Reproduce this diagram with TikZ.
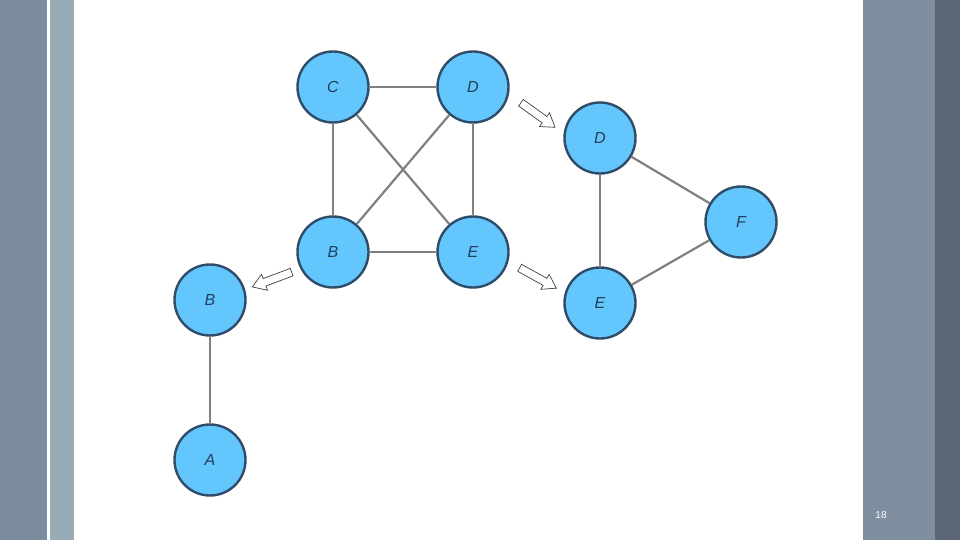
\documentclass[tikz,border=0pt]{standalone}
\usepackage{fontspec}
\setmainfont{Liberation Sans}
\definecolor{stripedark}{HTML}{7B8C9F}
\definecolor{stripelight}{HTML}{9AABB8}
\definecolor{stripemid}{HTML}{7F8F9F}
\definecolor{stripedeep}{HTML}{5A6673}
\definecolor{vfill}{HTML}{63C6FC}
\definecolor{vline}{HTML}{2F4D68}
\definecolor{vtext}{HTML}{22405C}
\definecolor{eline}{HTML}{808080}
\tikzset{
  vert/.style={circle, draw=vline, fill=vfill, line width=2.4pt, minimum size=71pt,
    inner sep=0pt, text=vtext, font=\fontsize{16}{19}\selectfont\itshape},
  edge/.style={draw=eline, line width=2.2pt},
  movearrow/.style={draw=black!75, fill=white, line width=0.7pt, line join=miter}
}
% hollow block arrow, centred at #1, pointing at angle #2
\newcommand{\blockarrow}[2]{%
  \begin{scope}[shift={#1}, rotate=#2]
    \draw[movearrow] (-21,-4) -- (8,-4) -- (8,-8.5) -- (21,0) -- (8,8.5)
      -- (8,4) -- (-21,4) -- cycle;
  \end{scope}}
\begin{document}
\begin{tikzpicture}[x=1pt,y=-1pt]

% Slide frame
\useasboundingbox (0,0) rectangle (960,540);
\fill[white] (0,0) rectangle (960,540);
\fill[stripedark] (0,0) rectangle (47,540);
\fill[stripelight] (50,0) rectangle (74,540);
\fill[stripemid] (863,0) rectangle (935,540);
\fill[stripedeep] (935,0) rectangle (960,540);
\node[text=white, font=\fontsize{10}{12}\selectfont] (pagenum) at (881,515) {18};

% Complete graph on B, C, D, E
\node[vert] (c) at (333,87) {C};
\node[vert] (d) at (473,87) {D};
\node[vert] (b) at (333,252) {B};
\node[vert] (e) at (473,252) {E};

% Split part: triangle D, E, F
\node[vert] (d2) at (600,138) {D};
\node[vert] (f) at (741,222) {F};
\node[vert] (e2) at (600,303) {E};

% Split part: edge B, A
\node[vert] (b2) at (210,300) {B};
\node[vert] (a) at (210,460) {A};

% Edges
\path[edge] (c) -- (d);
\path[edge] (c) -- (b);
\path[edge] (c) -- (e);
\path[edge] (d) -- (b);
\path[edge] (d) -- (e);
\path[edge] (b) -- (e);
\path[edge] (d2) -- (f);
\path[edge] (d2) -- (e2);
\path[edge] (f) -- (e2);
\path[edge] (b2) -- (a);

% Block arrows
\blockarrow{(272,279.5)}{200.6}
\blockarrow{(538,115)}{-35.8}
\blockarrow{(538,278)}{-29}

\end{tikzpicture}
\end{document}
